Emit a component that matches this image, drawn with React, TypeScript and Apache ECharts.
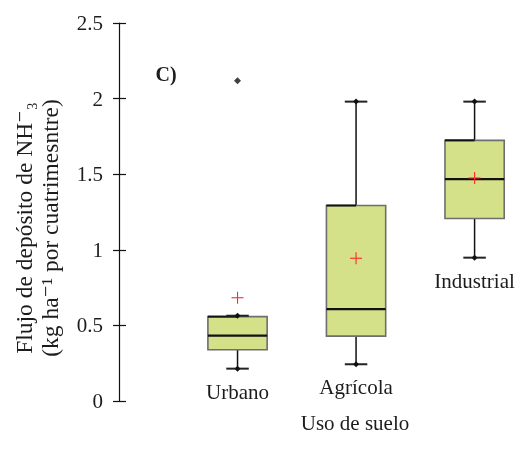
import React, { useEffect, useRef } from 'react';
import * as echarts from 'echarts';

const categories = ['Urbano', 'Agrícola', 'Industrial'];
const lowerWhisker = [0.214, 0.243, 0.948];
const q1 = [0.339, 0.429, 1.207];
const median = [0.432, 0.607, 1.468];
const q3 = [0.558, 1.293, 1.724];
const upperWhisker = [0.564, 1.98, 1.98];
const means = [0.683, 0.944, 1.475];
const outliers: [number, number][] = [[0, 2.118]];
const yTicks = [0, 0.5, 1, 1.5, 2, 2.5];

const FONT = "'Liberation Serif', 'DejaVu Serif', serif";
const TXT = '#1c1c1c';

export default function App() {
  const ref = useRef<HTMLDivElement>(null);
  useEffect(() => {
    if (!ref.current) return;
    const chart = echarts.init(ref.current, undefined, { renderer: 'svg' });
    const boxData = categories.map((c, i) => [i + 1, lowerWhisker[i], q1[i], median[i], q3[i], upperWhisker[i], means[i], i]);
    const outData = outliers.map(([i, v]) => [i + 1, v]);
    const yMin = yTicks[0];
    const yMax = yTicks[yTicks.length - 1];
    const yInt = yTicks[1] - yTicks[0];
    const option: any = {
      animation: false,
      grid: { left: 119, right: 0, top: 23, bottom: 57, containLabel: false },
      xAxis: { type: 'value', min: 0, max: 3.4, show: false },
      yAxis: [
        {
          type: 'value', min: yMin, max: yMax, interval: yInt, position: 'left',
          axisLine: { show: true, lineStyle: { color: '#111', width: 1.2 } },
          axisTick: { show: true, inside: true, length: 7, lineStyle: { color: '#111', width: 1.2 } },
          axisLabel: { show: true, margin: 16, fontSize: 21, fontFamily: FONT, color: TXT },
          splitLine: { show: false },
        },
        {
          type: 'value', min: yMin, max: yMax, interval: yInt, position: 'left', offset: 0,
          axisLine: { show: false },
          axisTick: { show: true, inside: false, length: 6, lineStyle: { color: '#111', width: 1.2 } },
          axisLabel: { show: false },
          splitLine: { show: false },
        },
      ],
      series: [
        {
          type: 'custom',
          data: boxData,
          encode: { x: 0, y: [1, 5] },
          renderItem: (params: any, api: any) => {
            const x = api.value(0);
            const idx = api.value(7);
            const pLo = api.coord([x, api.value(1)]);
            const pQ1 = api.coord([x, api.value(2)]);
            const pMed = api.coord([x, api.value(3)]);
            const pQ3 = api.coord([x, api.value(4)]);
            const pHi = api.coord([x, api.value(5)]);
            const pMean = api.coord([x, api.value(6)]);
            const cx = pMed[0];
            const halfW = api.size([0.5, 0])[0] / 2;
            const capHalf = api.size([0.19, 0])[0] / 2;
            const blk = '#111';
            const diamond = (p: number[]) => ({
              type: 'polygon',
              shape: { points: [[p[0] - 3, p[1]], [p[0], p[1] - 3], [p[0] + 3, p[1]], [p[0], p[1] + 3]] },
              style: { fill: blk },
            });
            return {
              type: 'group',
              children: [
                { type: 'line', shape: { x1: cx, y1: pLo[1], x2: cx, y2: pQ1[1] }, style: { stroke: blk, lineWidth: 1.5 } },
                { type: 'line', shape: { x1: cx, y1: pQ3[1], x2: cx, y2: pHi[1] }, style: { stroke: blk, lineWidth: 1.5 } },
                {
                  type: 'rect',
                  shape: { x: cx - halfW, y: pQ3[1], width: 2 * halfW, height: pQ1[1] - pQ3[1] },
                  style: { fill: '#d4e189', stroke: '#6e6e6e', lineWidth: 1.6 },
                },
                { type: 'line', shape: { x1: cx - halfW, y1: pQ3[1], x2: cx, y2: pQ3[1] }, style: { stroke: blk, lineWidth: 2 } },
                { type: 'line', shape: { x1: cx - halfW, y1: pMed[1], x2: cx + halfW, y2: pMed[1] }, style: { stroke: blk, lineWidth: 2.2 } },
                { type: 'line', shape: { x1: cx - capHalf, y1: pLo[1], x2: cx + capHalf, y2: pLo[1] }, style: { stroke: '#222', lineWidth: 2 } },
                { type: 'line', shape: { x1: cx - capHalf, y1: pHi[1], x2: cx + capHalf, y2: pHi[1] }, style: { stroke: '#222', lineWidth: 2 } },
                diamond(pLo),
                diamond(pHi),
                { type: 'line', shape: { x1: cx - 6, y1: pMean[1], x2: cx + 6, y2: pMean[1] }, style: { stroke: '#ff2a2a', lineWidth: 1.1 } },
                { type: 'line', shape: { x1: cx, y1: pMean[1] - 6, x2: cx, y2: pMean[1] + 6 }, style: { stroke: '#ff2a2a', lineWidth: 1.1 } },
                {
                  type: 'text',
                  x: cx,
                  y: pLo[1] + 23,
                  style: {
                    text: categories[idx], fill: TXT, font: `21px ${FONT}`,
                    align: 'center', verticalAlign: 'middle',
                  },
                },
              ],
            };
          },
        },
        {
          type: 'scatter',
          data: outData,
          symbol: 'diamond',
          symbolSize: 7,
          itemStyle: { color: '#111' },
        },
      ],
      graphic: [
        {
          type: 'text', x: 166, y: 74,
          style: { text: 'C)', font: `bold 20px ${FONT}`, fill: TXT, align: 'center', verticalAlign: 'middle' },
        },
        {
          type: 'text', x: 355, y: 423,
          style: { text: 'Uso de suelo', font: `21px ${FONT}`, fill: TXT, align: 'center', verticalAlign: 'middle' },
        },
        {
          type: 'text', x: 37, y: 228, rotation: Math.PI / 2,
          style: {
            text: 'Flujo de depósito de NH\u207B\u2083\n(kg ha\u207B\u00B9 por cuatrimesntre)',
            font: `23.5px ${FONT}`, fill: TXT, align: 'center', verticalAlign: 'middle', lineHeight: 26,
          },
        },
      ],
    };
    chart.setOption(option);
    return () => chart.dispose();
  }, []);
  return <div ref={ref} style={{ position: 'fixed', left: 0, top: 0, width: 522, height: 458 }} />;
}
